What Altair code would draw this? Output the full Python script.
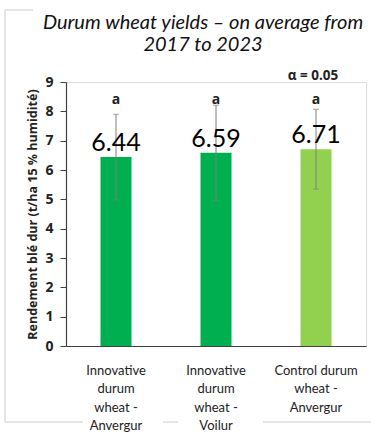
import altair as alt
import pandas as pd

categories = [
    "Innovative durum wheat - Anvergur",
    "Innovative durum wheat - Voilur",
    "Control durum wheat - Anvergur",
]
label_lines = [
    "Innovative|durum|wheat -|Anvergur",
    "Innovative|durum|wheat -|Voilur",
    "Control durum|wheat -|Anvergur",
]
yields = [6.44, 6.59, 6.71]
errors = [1.46, 1.62, 1.36]
letters = ["a", "a", "a"]
colors = ["#00B050", "#00B050", "#92D050"]
y_ticks = [0, 1, 2, 3, 4, 5, 6, 7, 8, 9]

df = pd.DataFrame({
    "cat": label_lines,
    "y": yields,
    "lo": [v - e for v, e in zip(yields, errors)],
    "hi": [v + e for v, e in zip(yields, errors)],
    "letter": letters,
    "color": colors,
    "lbl": [f"{v:.2f}" for v in yields],
})

x = alt.X("cat:N", sort=label_lines, title=None,
          scale=alt.Scale(paddingInner=0.69, paddingOuter=0.345),
          axis=alt.Axis(labelAngle=0, ticks=False, labelExpr="split(datum.label, '|')",
                        labelFont="Lato", labelFontSize=13, labelColor="#222222",
                        labelLineHeight=18.5, labelBaseline="top", labelPadding=18,
                        domainColor="#404040", domainWidth=1.2, labelLimit=200))

y_title = "Rendement blé dur (t/ha 15 % humidité)"
y_scale = alt.Scale(domain=[0, 9], nice=False)
y_axis = alt.Axis(values=y_ticks, grid=False, tickSize=6, tickColor="#404040",
                  domainColor="#404040", domainWidth=1.2, labelOverlap=False,
                  labelFont="Open Sans", labelFontWeight="bold", labelFontSize=14,
                  labelColor="#222222", labelPadding=7,
                  titleFont="Open Sans", titleFontWeight="bold", titleFontSize=12.5,
                  titleColor="#222222", titlePadding=5)


def yenc(field):
    return alt.Y(field, scale=y_scale, title=y_title, axis=y_axis)


def ydat(v):
    return alt.YDatum(v, type="quantitative", scale=y_scale, title=y_title, axis=y_axis)


# decorative light-grey frame around the chart (outside plot area)
one = pd.DataFrame({"k": [0]})
frame_style = dict(color="#dcdcdc", strokeWidth=1.5)
frame = alt.layer(
    alt.Chart(one).mark_rule(**frame_style).encode(
        x=alt.value(-61), y=alt.value(-72), y2=alt.value(340)),
    alt.Chart(one).mark_rule(**frame_style).encode(
        x=alt.value(-61), x2=alt.value(-33), y=alt.value(-72)),
    alt.Chart(one).mark_rule(**frame_style).encode(
        x=alt.value(-61), x2=alt.value(17), y=alt.value(340)),
    alt.Chart(one).mark_rule(**frame_style).encode(
        x=alt.value(97), x2=alt.value(112), y=alt.value(340)),
    alt.Chart(one).mark_rule(**frame_style).encode(
        x=alt.value(197), x2=alt.value(305), y=alt.value(340)),
)

base = alt.Chart(df).encode(x=x)

bars = base.mark_bar().encode(
    y=yenc("y:Q"),
    color=alt.Color("color:N", scale=None),
)

rules = base.mark_rule(color="#7f7f7f", strokeWidth=1).encode(y=yenc("lo:Q"), y2="hi:Q")
caps_hi = base.mark_tick(color="#7f7f7f", thickness=1, size=6, orient="horizontal").encode(
    y=yenc("hi:Q"))
caps_lo = base.mark_tick(color="#7f7f7f", thickness=1, size=6, orient="horizontal").encode(
    y=yenc("lo:Q"))

vals = base.mark_text(font="Lato", fontSize=25, color="#000000", baseline="alphabetic", dy=-6).encode(
    y=yenc("y:Q"), text="lbl:N")

lett = base.mark_text(font="Open Sans", fontWeight="bold", fontSize=14, color="#222222",
                      baseline="middle").encode(y=ydat(8.4), text="letter:N")

alpha = alt.Chart(pd.DataFrame({"t": ["α = 0.05"], "cat": [label_lines[2]]})).mark_text(
    font="Open Sans", fontWeight="bold", fontSize=13.5, color="#222222", baseline="middle",
    dx=-3, clip=False
).encode(x=alt.X("cat:N", sort=label_lines), y=ydat(9.2), text="t:N")

chart = alt.layer(bars, rules, caps_hi, caps_lo, vals, lett, alpha, frame).properties(
    width=300, height=264,
    title=alt.TitleParams(
        ["Durum wheat yields – on average from", "2017 to 2023"],
        font="Lato", fontStyle="italic", fontWeight="normal", fontSize=20,
        color="#111111", anchor="middle", dx=-13, dy=60, offset=14, lineHeight=22),
    autosize=alt.AutoSizeParams(type="none"),
    padding={"left": 66, "top": 82, "right": 5, "bottom": 91},
).configure_view(stroke=None).configure(background="white")

chart.save("out.html", embed_options={"renderer": "svg", "actions": False})
